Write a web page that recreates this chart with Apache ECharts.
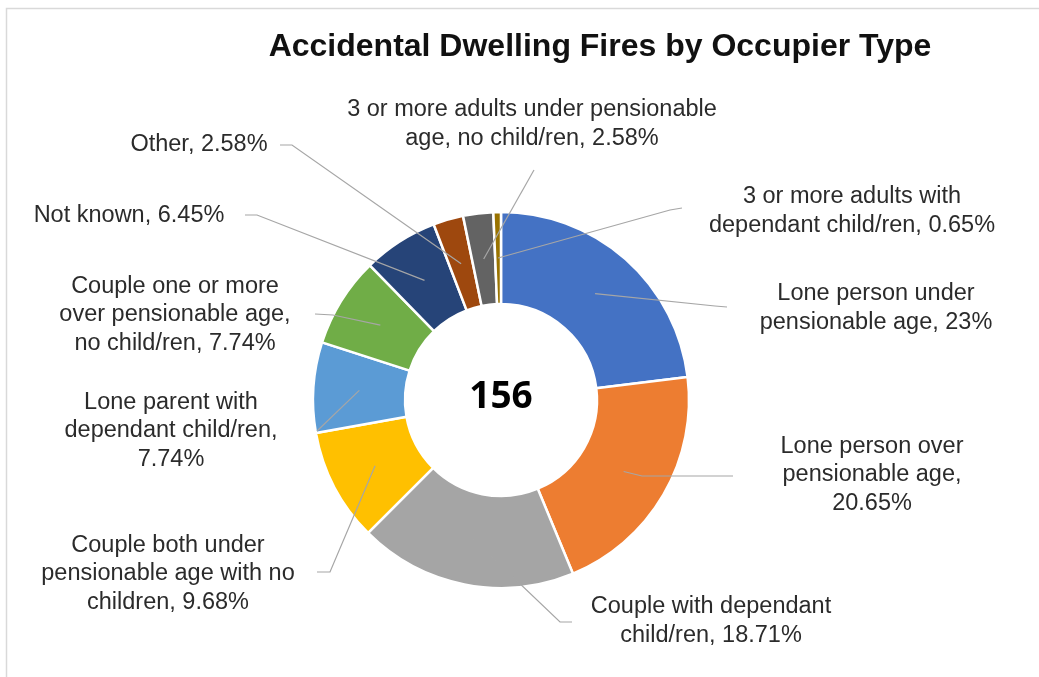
<!DOCTYPE html>
<html>
<head>
<meta charset="utf-8">
<title>Accidental Dwelling Fires by Occupier Type</title>
<script src="https://cdn.jsdelivr.net/npm/echarts@6/dist/echarts.min.js"></script>
<style>
  html, body { margin: 0; padding: 0; background: #fff; }
  #chart { width: 1039px; height: 677px; }
</style>
</head>
<body>
<div id="chart"></div>
<script>
// slices clockwise from 12 o'clock
const categories = [
  'Lone person under pensionable age',
  'Lone person over pensionable age',
  'Couple with dependant child/ren',
  'Couple both under pensionable age with no children',
  'Lone parent with dependant child/ren',
  'Couple one or more over pensionable age, no child/ren',
  'Not known',
  'Other',
  '3 or more adults under pensionable age, no child/ren',
  '3 or more adults with dependant child/ren'
];
const shares = [23, 20.65, 18.71, 9.68, 7.74, 7.74, 6.45, 2.58, 2.58, 0.65];
// label text as wrapped in the chart
const labelLines = [
  'Lone person under\npensionable age, 23%',
  'Lone person over\npensionable age,\n20.65%',
  'Couple with dependant\nchild/ren, 18.71%',
  'Couple both under\npensionable age with no\nchildren, 9.68%',
  'Lone parent with\ndependant child/ren,\n7.74%',
  'Couple one or more\nover pensionable age,\nno child/ren, 7.74%',
  'Not known, 6.45%',
  'Other, 2.58%',
  '3 or more adults under pensionable\nage, no child/ren, 2.58%',
  '3 or more adults with\ndependant child/ren, 0.65%'
];
const totalFires = 156;
const colors = ['#4472C4', '#ED7D31', '#A5A5A5', '#FFC000', '#5B9BD5',
                '#70AD47', '#264478', '#9E480E', '#636363', '#997300'];

// label placement (text centre) and leader line bend / end points
const labelPos = [[876, 308], [872, 475], [711, 621], [168, 574], [171, 431],
                  [175, 315], [129, 216], [199, 145], [532, 124], [852, 211]];
const leaderBend = [[715, 306], [642, 476], [560, 622], [330, 572], [317, 431],
                    [333, 315], [257, 215], [292, 145], [534, 170], [670, 210]];
const leaderEnd = [[727, 307], [733, 476], [572, 622], [317, 572], [317, 431],
                   [315, 314], [245, 215], [280, 145], [534, 170], [682, 208]];

const cx = 501, cy = 400, rIn = 96, rOut = 188;
const rMid = (rIn + rOut) / 2;

const total = shares.reduce((a, b) => a + b, 0);
// leader lines start half way through the ring, at the slice's mid angle
function midPoint(i) {
  let before = 0;
  for (let k = 0; k < i; k++) before += shares[k];
  const ang = (before + shares[i] / 2) / total * Math.PI * 2;
  return [cx + rMid * Math.sin(ang), cy - rMid * Math.cos(ang)];
}

const leaders = shares.map((v, i) => ({
  type: 'polyline',
  silent: true,
  z: 100,
  shape: { points: [midPoint(i), leaderBend[i], leaderEnd[i]] },
  style: { stroke: '#a6a6a6', lineWidth: 1.2, fill: null }
}));

const chart = echarts.init(document.getElementById('chart'));
const option = {
  animation: false,
  backgroundColor: '#fff',
  title: {
    text: 'Accidental Dwelling Fires by Occupier Type',
    left: 595,
    textAlign: 'center',
    top: 26,
    textStyle: {
      fontFamily: 'Liberation Sans, Arial, sans-serif',
      fontSize: 32,
      fontWeight: 'bold',
      color: '#111'
    }
  },
  graphic: [
    {
      type: 'rect',
      silent: true,
      z: -10,
      shape: { x: 6.5, y: 8.5, width: 1200, height: 800 },
      style: { fill: 'none', stroke: '#d9d9d9', lineWidth: 1.5 }
    },
    {
      type: 'text',
      silent: true,
      z: 100,
      x: cx,
      y: cy - 3,
      style: {
        text: String(totalFires),
        align: 'center',
        verticalAlign: 'middle',
        fontFamily: 'Noto Sans, sans-serif',
        fontSize: 37,
        fontWeight: 'bold',
        fill: '#000'
      }
    }
  ].concat(leaders),
  series: [
    {
      type: 'pie',
      center: [cx, cy],
      radius: [rIn, rOut],
      startAngle: 90,
      clockwise: true,
      avoidLabelOverlap: false,
      itemStyle: { borderColor: '#fff', borderWidth: 2.5 },
      label: {
        show: true,
        position: 'outside',
        formatter: p => labelLines[p.dataIndex],
        fontFamily: 'Liberation Sans, Arial, sans-serif',
        fontSize: 23.5,
        lineHeight: 28.5,
        color: '#2b2b2b',
        align: 'center'
      },
      labelLine: { show: false },
      labelLayout: function (params) {
        const i = params.dataIndex;
        return {
          x: labelPos[i][0],
          y: labelPos[i][1],
          align: 'center',
          verticalAlign: 'middle'
        };
      },
      emphasis: { disabled: true },
      data: categories.map((name, i) => ({
        name: name,
        value: shares[i],
        itemStyle: { color: colors[i] }
      }))
    }
  ]
};
chart.setOption(option);
</script>
</body>
</html>
